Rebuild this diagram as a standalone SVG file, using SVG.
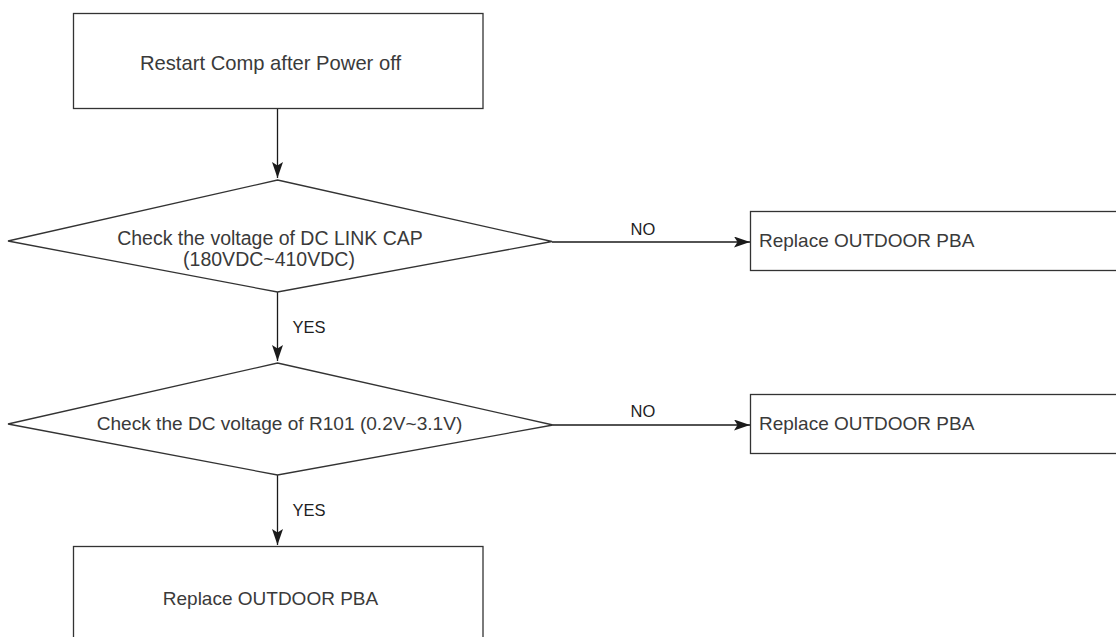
<svg xmlns="http://www.w3.org/2000/svg" width="1116" height="637" viewBox="0 0 1116 637">
<defs>
<style>
.box{fill:#fff;stroke:#333;stroke-width:1.3}
.lbl{font-family:"Liberation Sans",Arial,sans-serif;font-size:19.5px;fill:#3a3a3a}
.yn{font-family:"Liberation Sans",Arial,sans-serif;font-size:16.5px;fill:#1e1e1e}
.edge{fill:none;stroke:#1a1a1a;stroke-width:1.3}
</style>
<marker id="arr" viewBox="0 0 16 11" markerWidth="16" markerHeight="11" refX="16" refY="5.5" orient="auto" markerUnits="userSpaceOnUse">
<path d="M0,0 L16,5.5 L0,11 L3.5,5.5 Z" fill="#1a1a1a"/>
</marker>
</defs>
<rect width="1116" height="637" fill="#fff"/>
<g id="connectors">
<line class="edge" x1="277.5" y1="108.5" x2="277.5" y2="178" marker-end="url(#arr)"/>
<line class="edge" x1="277.5" y1="292" x2="277.5" y2="361" marker-end="url(#arr)"/>
<line class="edge" x1="277.5" y1="475" x2="277.5" y2="545" marker-end="url(#arr)"/>
<line class="edge" x1="552" y1="242" x2="750" y2="242" marker-end="url(#arr)"/>
<line class="edge" x1="553" y1="425" x2="750" y2="425" marker-end="url(#arr)"/>
<text class="yn" x="630.5" y="234.5">NO</text>
<text class="yn" x="630.5" y="416.5">NO</text>
<text class="yn" x="292.5" y="332.5">YES</text>
<text class="yn" x="292.5" y="515.5">YES</text>
</g>
<g id="start">
<rect class="box" x="73.5" y="13.5" width="409.5" height="95"/>
<text class="lbl" x="270.5" y="69.5" text-anchor="middle" style="font-size:20.2px">Restart Comp after Power off</text>
</g>
<g id="check-dclink">
<polygon class="box" points="277.5,180 552,241.5 277.5,292 8,241"/>
<text class="lbl" x="270" y="245" text-anchor="middle">Check the voltage of DC LINK CAP</text>
<text class="lbl" x="269" y="265.5" text-anchor="middle">(180VDC~410VDC)</text>
</g>
<g id="replace-1">
<rect class="box" x="750.5" y="211.5" width="400" height="59"/>
<text class="lbl" x="759" y="246.5" style="font-size:19px">Replace OUTDOOR PBA</text>
</g>
<g id="check-r101">
<polygon class="box" points="277.5,363 553,425 277.5,475 8,424"/>
<text class="lbl" x="279.5" y="430" text-anchor="middle" style="font-size:19.1px">Check the DC voltage of R101 (0.2V~3.1V)</text>
</g>
<g id="replace-2">
<rect class="box" x="750.5" y="394.5" width="400" height="59"/>
<text class="lbl" x="759" y="429.5" style="font-size:19px">Replace OUTDOOR PBA</text>
</g>
<g id="replace-3">
<rect class="box" x="73.5" y="546.5" width="409.5" height="120"/>
<text class="lbl" x="270.5" y="605" text-anchor="middle" style="font-size:19px">Replace OUTDOOR PBA</text>
</g>
</svg>
